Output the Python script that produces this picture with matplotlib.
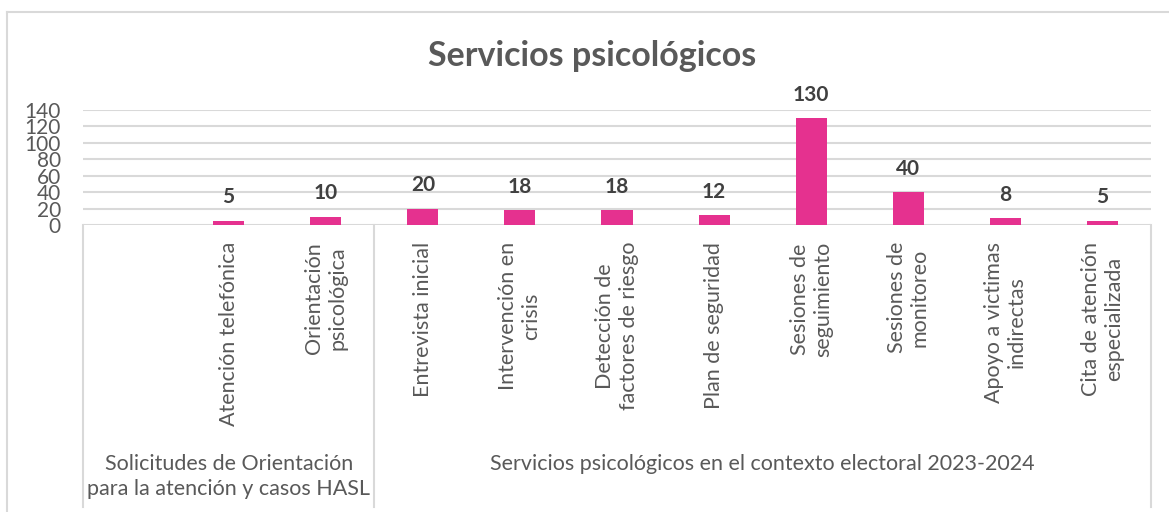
"""
Servicios psicologicos - bar chart with two level category axis
"""

import numpy as np
import matplotlib
matplotlib.use('Agg')
import matplotlib.pyplot as plt
import matplotlib.transforms as mtransforms
from matplotlib.lines import Line2D

plt.rcParams['font.family'] = ['Lato', 'DejaVu Sans']

# data
categories = ['', 'Atención telefónica', 'Orientación\npsicológica',
              'Entrevista inicial', 'Intervención en\ncrisis',
              'Detección de\nfactores de riesgo', 'Plan de seguridad',
              'Sesiones de\nseguimiento', 'Sesiones de\nmonitoreo',
              'Apoyo a victimas\nindirectas', 'Cita de atención\nespecializada']
values = [np.nan, 5, 10, 20, 18, 18, 12, 130, 40, 8, 5]
groups = ['Solicitudes de Orientación\npara la atención y casos HASL',
          'Servicios psicológicos en el contexto electoral 2023-2024']
group_sizes = [3, 8]
yticks = [0, 20, 40, 60, 80, 100, 120, 140]

W, H = 1169, 512
bar_col = '#E5318F'
grid_col = '#D9D9D9'
txt_col = '#595959'

fig = plt.figure(figsize=(W / 100, H / 100), dpi=100)

# axes placed in pixel coords
x0, x1, ytop, ybot = 83, 1151, 110, 225
ax = fig.add_axes([x0 / W, 1 - ybot / H, (x1 - x0) / W, (ybot - ytop) / H])
ax_h = ybot - ytop

x = np.arange(len(categories))
ax.bar(x, values, width=0.32, color=bar_col, zorder=3)
ax.set_xlim(-0.5, len(categories) - 0.5)
ax.set_ylim(0, 140)
ax.set_yticks(yticks)
ax.set_yticklabels([str(t) for t in yticks], fontsize=15, color=txt_col)
ax.tick_params(axis='y', length=0, pad=16)
ax.set_xticks([])
ax.yaxis.grid(True, color=grid_col, lw=1.5, zorder=0)
for s in ax.spines.values():
    s.set_visible(False)

# value labels
for xi, v in zip(x, values):
    if np.isnan(v):
        continue
    ax.annotate(str(int(v)), (xi, v), xytext=(0, 17), textcoords='offset points',
                ha='center', va='center', fontsize=15, fontweight='bold',
                color='#404040', annotation_clip=False)

trans = mtransforms.blended_transform_factory(ax.transData, ax.transAxes)

def px2ax(py):
    return (ybot - py) / ax_h

# category labels
for xi, lab in zip(x, categories):
    if lab == '':
        continue
    ax.text(xi, px2ax(242), lab, transform=trans, rotation=90, ha='center',
            va='top', multialignment='center', fontsize=15.5, color=txt_col,
            linespacing=1.2)

# group separators and labels
bottom = px2ax(507)
start = -0.5
seps = [start]
for g, n in zip(groups, group_sizes):
    end = start + n
    seps.append(end)
    ax.text((start + end) / 2, px2ax(454), g, transform=trans, ha='center',
            va='top', multialignment='center', fontsize=15.5, color=txt_col,
            linespacing=1.3)
    start = end
for s in seps:
    ax.plot([s, s], [0, bottom], transform=trans, color=grid_col, lw=1.5,
            clip_on=False)

# title
fig.text(592 / W, 1 - 56 / H, 'Servicios psicológicos', ha='center', va='center',
         fontsize=24.5, fontweight='bold', color=txt_col)

# outer chart frame
fig.add_artist(Line2D([7 / W, 7 / W], [0, 1 - 12 / H], transform=fig.transFigure,
                      color=grid_col, lw=1.5))
fig.add_artist(Line2D([7 / W, 1], [1 - 12 / H, 1 - 12 / H], transform=fig.transFigure,
                      color=grid_col, lw=1.5))

fig.savefig('out.png', dpi=100)
